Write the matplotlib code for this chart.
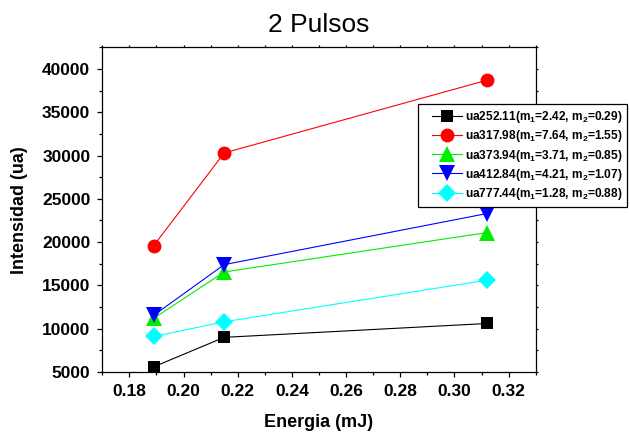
import matplotlib
matplotlib.use("Agg")
import matplotlib.pyplot as plt
from matplotlib.ticker import MultipleLocator
from matplotlib.lines import Line2D
from matplotlib.legend_handler import HandlerLine2D

plt.rcParams['font.family'] = ['Liberation Sans', 'DejaVu Sans']
plt.rcParams['mathtext.fontset'] = 'custom'
plt.rcParams['mathtext.rm'] = 'Liberation Sans:bold'
plt.rcParams['mathtext.bf'] = 'Liberation Sans:bold'
plt.rcParams['mathtext.default'] = 'bf'

# Pulse energy (mJ)
energy = [0.189, 0.215, 0.312]

# Line intensities (a.u.) for each emission line
ua252 = [5600, 9000, 10600]
ua317 = [19600, 30300, 38700]
ua373 = [11200, 16550, 21100]
ua412 = [11550, 17400, 23300]
ua777 = [9100, 10800, 15600]

labels = [
    r'ua252.11(m$_1$=2.42, m$_2$=0.29)',
    r'ua317.98(m$_1$=7.64, m$_2$=1.55)',
    r'ua373.94(m$_1$=3.71, m$_2$=0.85)',
    r'ua412.84(m$_1$=4.21, m$_2$=1.07)',
    r'ua777.44(m$_1$=1.28, m$_2$=0.88)',
]
series = [ua252, ua317, ua373, ua412, ua777]
colors = ['#000000', '#ff0000', '#00ee00', '#0000ff', '#00ffff']
markers = ['s', 'o', '^', 'v', 'D']
msizes = [9, 10, 11, 11, 9]

fig = plt.figure(figsize=(6.3, 4.34), dpi=100)
ax = fig.add_axes([0.1624, 0.1429, 0.8503 - 0.1624, 0.891 - 0.1429])

for y, lab, c, m, ms in zip(series, labels, colors, markers, msizes):
    ax.plot(energy, y, color=c, marker=m, markersize=ms, linewidth=0.8,
            markeredgewidth=0, label=lab)

ax.set_xlim(0.17, 0.33)
ax.set_ylim(5000, 42500)
ax.xaxis.set_major_locator(MultipleLocator(0.02))
ax.xaxis.set_minor_locator(MultipleLocator(0.01))
ax.yaxis.set_major_locator(MultipleLocator(5000))
ax.yaxis.set_minor_locator(MultipleLocator(2500))
ax.xaxis.set_major_formatter(plt.FuncFormatter(lambda v, p: f'{v:.2f}'))
ax.yaxis.set_major_formatter(plt.FuncFormatter(lambda v, p: f'{v:.0f}'))

for s in ax.spines.values():
    s.set_linewidth(0.9)

ax.tick_params(which='major', direction='out', length=3.6, width=0.9,
               labelsize=12.5, pad=5)
ax.tick_params(which='minor', direction='out', length=2.2, width=0.9)
ax.tick_params(which='both', top=True, right=True)
for t in ax.xaxis.get_major_ticks() + ax.xaxis.get_minor_ticks():
    t.tick2line.set_markersize(1.2)
for t in ax.yaxis.get_major_ticks() + ax.yaxis.get_minor_ticks():
    t.tick2line.set_markersize(1.2)
for lbl in ax.get_xticklabels() + ax.get_yticklabels():
    lbl.set_fontweight('bold')

ax.set_xlabel('Energia (mJ)', fontsize=13, fontweight='bold', labelpad=11)
ax.set_ylabel('Intensidad (ua)', fontsize=13, fontweight='bold', labelpad=10)
ax.set_title('2 Pulsos', fontsize=19, pad=11)

leg = fig.legend(loc='upper left', bbox_to_anchor=(0.6635, 0.7604),
                 bbox_transform=fig.transFigure, fontsize=8.6, frameon=True,
                 fancybox=False, edgecolor='black', framealpha=1,
                 handlelength=3.2, handletextpad=0.25, labelspacing=0.26,
                 borderpad=0.45, borderaxespad=0,
                 handler_map={Line2D: HandlerLine2D(xpad=0.75)})
leg.get_frame().set_linewidth(0.9)
for txt in leg.get_texts():
    txt.set_fontweight('bold')

fig.savefig('out.png', dpi=100)
